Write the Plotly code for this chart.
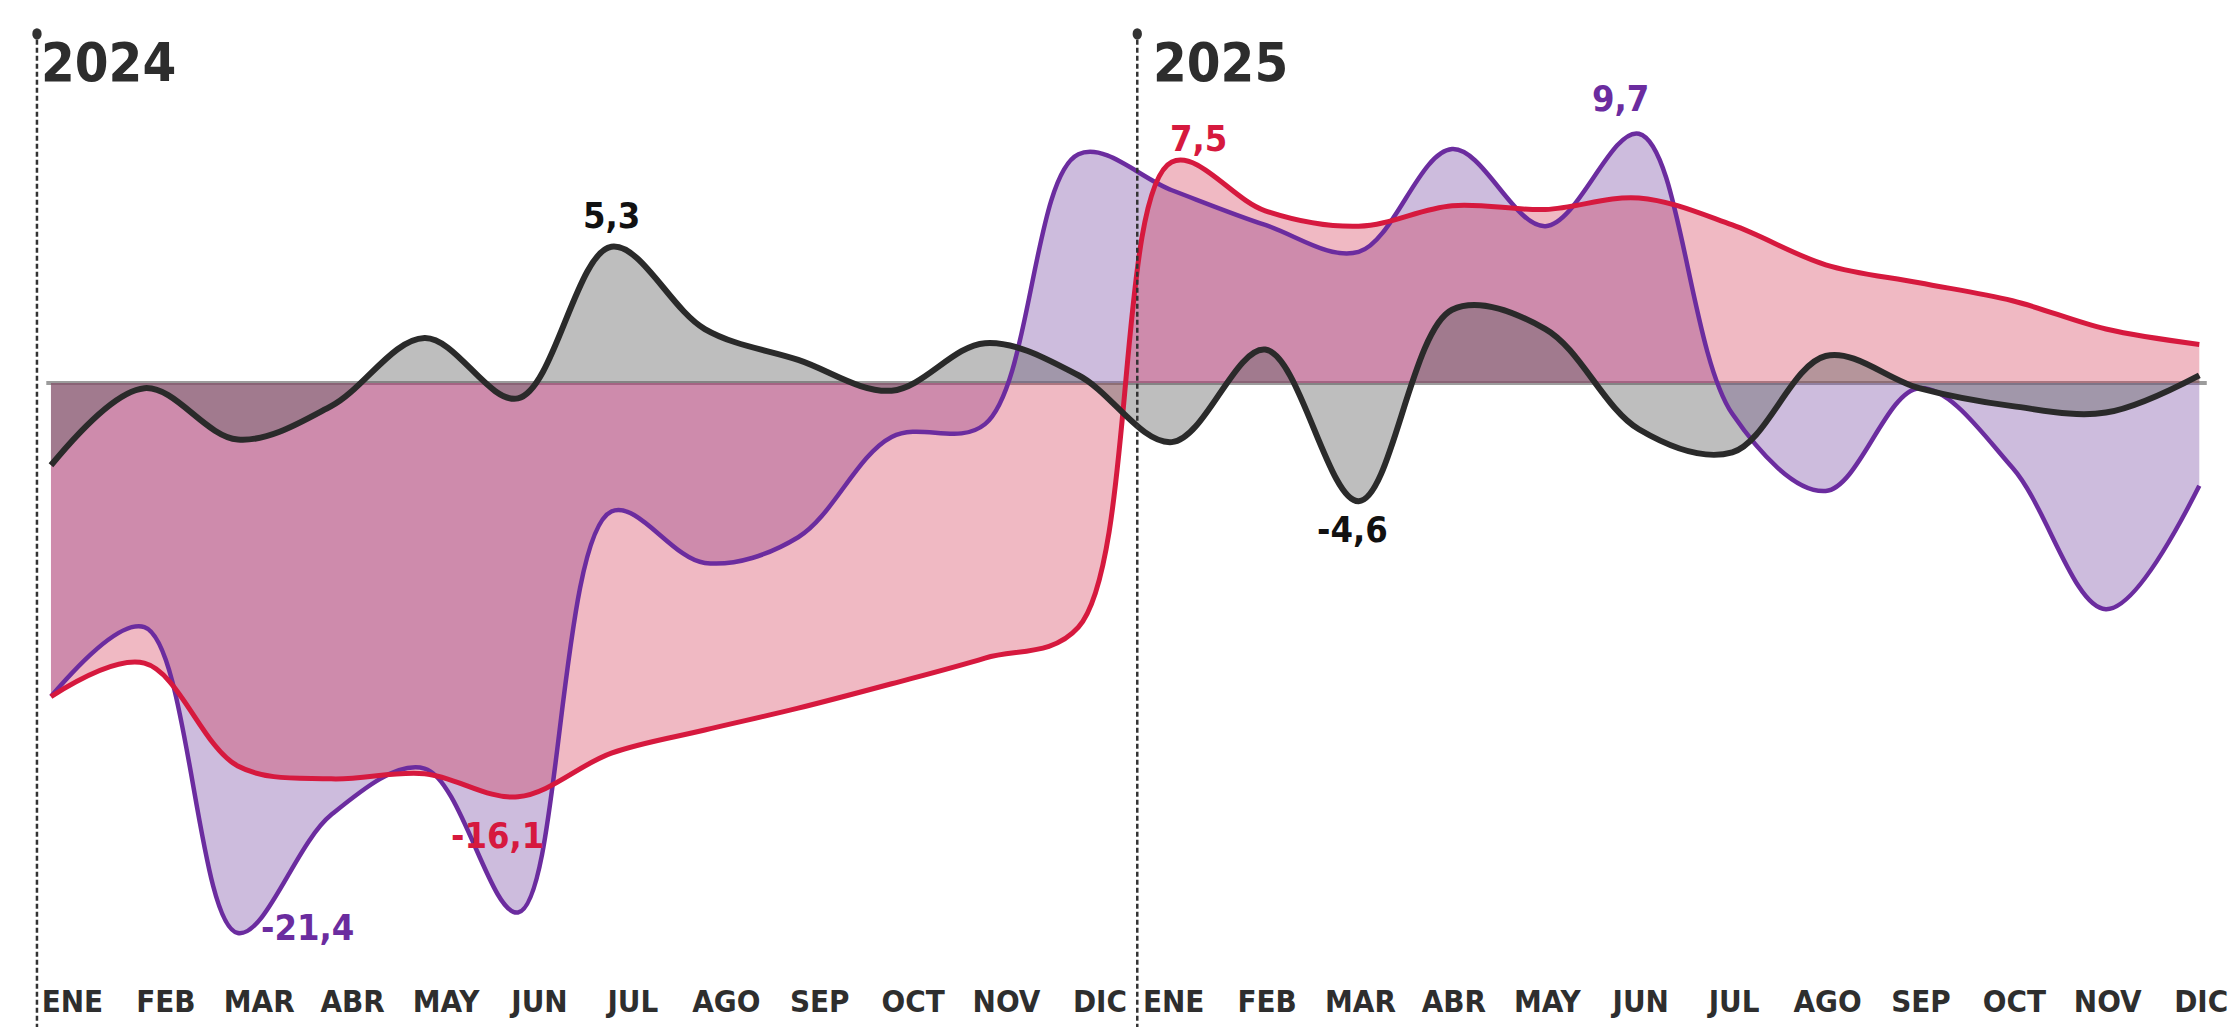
import plotly.graph_objects as go

# months shown on the axis (two years)
months = ["ENE", "FEB", "MAR", "ABR", "MAY", "JUN", "JUL", "AGO", "SEP", "OCT", "NOV", "DIC"]
years = ["2024", "2025"]
tick_labels = months + months

# one value per month, ENE 2024 .. DIC 2025
black_vals = [-3.2, -0.2, -2.2, -0.9, 1.75, -0.6, 5.3, 2.1, 0.9, -0.3, 1.55, 0.3,
              -2.3, 1.3, -4.6, 2.85, 2.1, -1.8, -2.7, 1.05, -0.2, -0.9, -1.15, 0.3]
purple_vals = [-12.2, -9.5, -21.4, -16.8, -15.0, -20.6, -5.0, -7.0, -6.0, -2.1, -1.6, 8.9,
               7.5, 6.15, 5.1, 9.1, 6.1, 9.7, -1.2, -4.2, -0.2, -3.3, -8.8, -4.0]
red_vals = [-12.2, -10.9, -14.9, -15.4, -15.2, -16.1, -14.4, -13.5, -12.65, -11.7, -10.7, -9.5,
            8.6, 6.7, 6.1, 6.9, 6.75, 7.2, 6.15, 4.6, 3.9, 3.2, 2.1, 1.5]

# highlighted values: (text, month index)
black_notes = [("5,3", 6), ("-4,6", 14)]
purple_notes = [("-21,4", 2), ("9,7", 17)]
red_notes = [("-16,1", 5), ("7,5", 12)]

x = list(range(len(black_vals)))

FONT = "DejaVu Sans Condensed, sans-serif"
BLACK = "#2a2a2a"
PURPLE = "#6b2c9f"
RED = "#d6193e"

fig = go.Figure()

# fills first (purple, red, black), then the lines on top
fills = [(purple_vals, "rgba(130,87,170,0.40)"),
         (red_vals, "rgba(208,36,67,0.32)"),
         (black_vals, "rgba(100,100,100,0.42)")]
for vals, col in fills:
    fig.add_trace(go.Scatter(
        x = x, y = vals, mode = "lines", fill = "tozeroy", fillcolor = col,
        line = dict(width = 0, shape = "spline", smoothing = 1),
        hoverinfo = "skip", showlegend = False))

lines = [(purple_vals, PURPLE, 4.5), (red_vals, RED, 5), (black_vals, BLACK, 6)]
for vals, col, w in lines:
    fig.add_trace(go.Scatter(
        x = x, y = vals, mode = "lines",
        line = dict(width = w, color = col, shape = "spline", smoothing = 1),
        showlegend = False))

# value labels, placed next to the point they describe
label_offsets = {"5,3": (0.0, 1.2), "-4,6": (-0.07, -1.1), "-21,4": (0.75, 0.2),
                 "9,7": (-0.2, 1.35), "-16,1": (-0.22, -1.5), "7,5": (0.29, 0.9)}
for notes, vals, col in [(black_notes, black_vals, "#111111"),
                         (purple_notes, purple_vals, PURPLE),
                         (red_notes, red_vals, RED)]:
    for txt, i in notes:
        dx, dy = label_offsets[txt]
        fig.add_annotation(x = i + dx, y = vals[i] + dy, text = txt, showarrow = False,
                           font = dict(family = FONT, size = 36, color = col, weight = 700))

# zero line
fig.add_shape(type = "line", x0 = -0.05, x1 = 23.08, y0 = 0, y1 = 0,
              line = dict(color = "#9c9c9c", width = 4), layer = "below")

# year dividers and year titles
year_starts = [-0.15, 11.63]
title_shift = [0.02, 0.15]
for xs, dx, yr in zip(year_starts, title_shift, years):
    fig.add_shape(type = "line", xref = "x", yref = "paper", x0 = xs, x1 = xs,
                  y0 = -0.08, y1 = 0.972, line = dict(color = "#333333", width = 2.5, dash = "5px,3px"))
    fig.add_shape(type = "circle", xref = "x", yref = "paper", x0 = xs - 0.05, x1 = xs + 0.05,
                  y0 = 0.967, y1 = 0.979, fillcolor = "#333333", line = dict(width = 0))
    fig.add_annotation(x = xs + dx, y = 0.943, xref = "x", yref = "paper", text = yr,
                       xanchor = "left", yanchor = "middle", showarrow = False,
                       font = dict(family = FONT, size = 54, color = "#2d2d2d", weight = 700))

tick_pos = [i + 0.23 for i in range(12)] + [12.02 + i for i in range(12)]

fig.update_layout(
    width = 2238, height = 1027,
    margin = dict(l = 0, r = 0, t = 0, b = 67),
    plot_bgcolor = "white", paper_bgcolor = "white",
    xaxis = dict(range = [-0.46, 23.5], tickvals = tick_pos, ticktext = tick_labels,
                 showgrid = False, zeroline = False, showline = False, ticks = "",
                 tickangle = 0, automargin = False, ticklabeloverflow = "allow",
                 ticklabelstandoff = 12,
                 tickfont = dict(family = FONT, size = 31, color = "#2e2e2e", weight = 700)),
    yaxis = dict(range = [-22.76, 14.59], visible = False),
    hovermode = False,
)

fig.write_html("out.html")
